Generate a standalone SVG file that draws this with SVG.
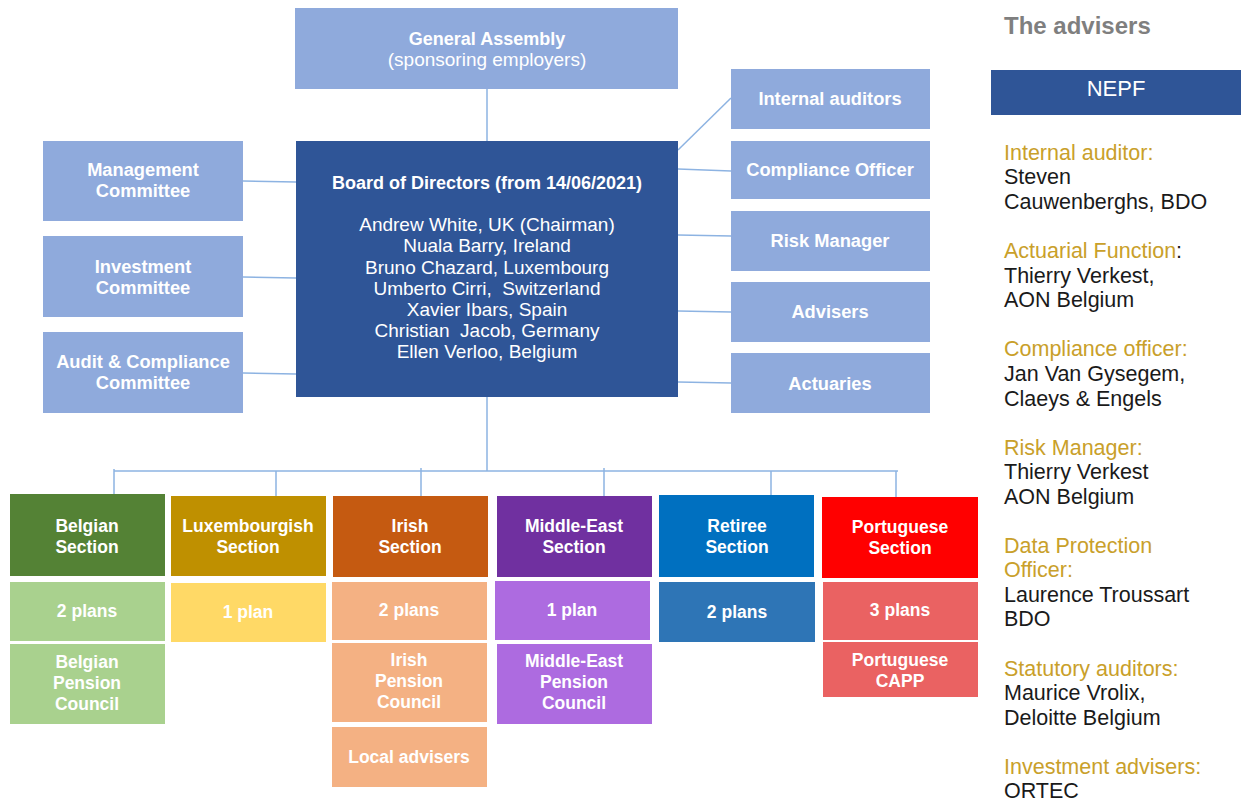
<svg xmlns="http://www.w3.org/2000/svg" width="1241" height="801" viewBox="0 0 1241 801">
<style>
.lb{fill:#8FAADC}
.bd{fill:#2F5597}
.t{font-family:"Liberation Sans",Arial,sans-serif;fill:#fff;text-anchor:middle}
.b{font-weight:bold;font-size:17.5px}
.s{font-size:18.3px}
.r{font-size:19px}
.c{stroke:#8DB3E2;stroke-width:1.5;fill:none}
.adv{font-family:"Liberation Sans",Arial,sans-serif;font-size:21.5px;fill:#1a1a1a}
.g{fill:#C9A02A}
</style>
<rect width="1241" height="801" fill="#fff"/>
<g id="connectors">
<line class="c" x1="487" y1="89" x2="487" y2="141"/>
<line class="c" x1="243" y1="181" x2="296" y2="182"/>
<line class="c" x1="243" y1="277" x2="296" y2="278"/>
<line class="c" x1="243" y1="373" x2="296" y2="374"/>
<line class="c" x1="678" y1="150" x2="731" y2="98"/>
<line class="c" x1="678" y1="169" x2="731" y2="171"/>
<line class="c" x1="678" y1="235" x2="731" y2="236"/>
<line class="c" x1="678" y1="311" x2="731" y2="312"/>
<line class="c" x1="678" y1="382" x2="731" y2="383"/>
<line class="c" x1="487" y1="397" x2="487" y2="471"/>
<line class="c" x1="114" y1="471" x2="898" y2="471"/>
<line class="c" x1="114" y1="469" x2="114" y2="494"/>
<line class="c" x1="276" y1="471" x2="276" y2="496"/>
<line class="c" x1="421" y1="468" x2="421" y2="496"/>
<line class="c" x1="604" y1="468" x2="604" y2="496"/>
<line class="c" x1="771" y1="471" x2="771" y2="495"/>
<line class="c" x1="896" y1="471" x2="896" y2="497"/>
</g>
<g id="general-assembly">
<rect class="lb" x="295" y="8" width="383" height="81"/>
<text class="t b" x="487" y="45" style="font-size:18px">General Assembly</text>
<text class="t r" x="487" y="66">(sponsoring employers)</text>
</g>
<g id="board">
<rect class="bd" x="296" y="141" width="382" height="256"/>
<text class="t b" x="487" y="189" style="font-size:18px">Board of Directors (from 14/06/2021)</text>
<text class="t r" x="487" y="231">Andrew White, UK (Chairman)</text>
<text class="t r" x="487" y="252">Nuala Barry, Ireland</text>
<text class="t r" x="487" y="274">Bruno Chazard, Luxembourg</text>
<text class="t r" x="487" y="295" xml:space="preserve">Umberto Cirri,  Switzerland</text>
<text class="t r" x="487" y="316">Xavier Ibars, Spain</text>
<text class="t r" x="487" y="337" xml:space="preserve">Christian  Jacob, Germany</text>
<text class="t r" x="487" y="358">Ellen Verloo, Belgium</text>
</g>
<g id="management-committee">
<rect class="lb" x="43" y="141" width="200" height="80"/>
<text class="t b s" x="143" y="176">Management</text>
<text class="t b s" x="143" y="197">Committee</text>
</g>
<g id="investment-committee">
<rect class="lb" x="43" y="236" width="200" height="81"/>
<text class="t b s" x="143" y="273">Investment</text>
<text class="t b s" x="143" y="294">Committee</text>
</g>
<g id="audit-committee">
<rect class="lb" x="43" y="332" width="200" height="81"/>
<text class="t b s" x="143" y="368">Audit &amp; Compliance</text>
<text class="t b s" x="143" y="389">Committee</text>
</g>
<g id="internal-auditors">
<rect class="lb" x="731" y="69" width="199" height="60"/>
<text class="t b s" x="830" y="105">Internal auditors</text>
</g>
<g id="compliance-officer">
<rect class="lb" x="731" y="141" width="199" height="58"/>
<text class="t b s" x="830" y="176">Compliance Officer</text>
</g>
<g id="risk-manager">
<rect class="lb" x="731" y="211" width="199" height="60"/>
<text class="t b s" x="830" y="247">Risk Manager</text>
</g>
<g id="advisers">
<rect class="lb" x="731" y="282" width="199" height="60"/>
<text class="t b s" x="830" y="318">Advisers</text>
</g>
<g id="actuaries">
<rect class="lb" x="731" y="353" width="199" height="60"/>
<text class="t b s" x="830" y="390">Actuaries</text>
</g>
<g id="belgian-section">
<rect x="10" y="494" width="155" height="82" fill="#548235"/>
<text class="t b" x="87" y="532">Belgian</text>
<text class="t b" x="87" y="553">Section</text>
<rect x="10" y="582" width="155" height="59" fill="#A9D18E"/>
<text class="t b" x="87" y="617">2 plans</text>
<rect x="10" y="644" width="155" height="80" fill="#A9D18E"/>
<text class="t b" x="87" y="668">Belgian</text>
<text class="t b" x="87" y="689">Pension</text>
<text class="t b" x="87" y="710">Council</text>
</g>
<g id="luxembourgish-section">
<rect x="171" y="496" width="155" height="80" fill="#BF9000"/>
<text class="t b" x="248" y="532">Luxembourgish</text>
<text class="t b" x="248" y="553">Section</text>
<rect x="171" y="583" width="155" height="59" fill="#FFD966"/>
<text class="t b" x="248" y="618">1 plan</text>
</g>
<g id="irish-section">
<rect x="333" y="496" width="155" height="81" fill="#C55A11"/>
<text class="t b" x="410" y="532">Irish</text>
<text class="t b" x="410" y="553">Section</text>
<rect x="332" y="582" width="155" height="58" fill="#F4B183"/>
<text class="t b" x="409" y="616">2 plans</text>
<rect x="332" y="643" width="155" height="79" fill="#F4B183"/>
<text class="t b" x="409" y="666">Irish</text>
<text class="t b" x="409" y="687">Pension</text>
<text class="t b" x="409" y="708">Council</text>
<rect x="332" y="727" width="155" height="60" fill="#F4B183"/>
<text class="t b" x="409" y="763">Local advisers</text>
</g>
<g id="middle-east-section">
<rect x="497" y="496" width="155" height="81" fill="#7030A0"/>
<text class="t b" x="574" y="532">Middle-East</text>
<text class="t b" x="574" y="553">Section</text>
<rect x="495" y="581" width="155" height="59" fill="#AD6BE0"/>
<text class="t b" x="572" y="616">1 plan</text>
<rect x="497" y="644" width="155" height="80" fill="#AD6BE0"/>
<text class="t b" x="574" y="667">Middle-East</text>
<text class="t b" x="574" y="688">Pension</text>
<text class="t b" x="574" y="709">Council</text>
</g>
<g id="retiree-section">
<rect x="659" y="495" width="155" height="82" fill="#0070C0"/>
<text class="t b" x="737" y="532">Retiree</text>
<text class="t b" x="737" y="553">Section</text>
<rect x="659" y="582" width="156" height="60" fill="#2E75B6"/>
<text class="t b" x="737" y="618">2 plans</text>
</g>
<g id="portuguese-section">
<rect x="822" y="497" width="156" height="81" fill="#FF0000"/>
<text class="t b" x="900" y="533">Portuguese</text>
<text class="t b" x="900" y="554">Section</text>
<rect x="823" y="582" width="155" height="58" fill="#EA6262"/>
<text class="t b" x="900" y="616">3 plans</text>
<rect x="823" y="642" width="155" height="55" fill="#EA6262"/>
<text class="t b" x="900" y="666">Portuguese</text>
<text class="t b" x="900" y="687">CAPP</text>
</g>
<g id="advisers-panel">
<text x="1004" y="34" style="font-family:'Liberation Sans',Arial,sans-serif;font-weight:bold;font-size:24px;fill:#7F7F7F">The advisers</text>
<rect x="991" y="70" width="250" height="45" fill="#2F5597"/>
<text class="t" x="1116" y="96" style="font-size:22px">NEPF</text>
<text class="adv g" x="1004" y="160">Internal auditor:</text>
<text class="adv" x="1004" y="184">Steven</text>
<text class="adv" x="1004" y="209">Cauwenberghs, BDO</text>
<text class="adv" x="1004" y="258"><tspan class="g">Actuarial Function</tspan>:</text>
<text class="adv" x="1004" y="283">Thierry Verkest,</text>
<text class="adv" x="1004" y="307">AON Belgium</text>
<text class="adv g" x="1004" y="356">Compliance officer:</text>
<text class="adv" x="1004" y="381">Jan Van Gysegem,</text>
<text class="adv" x="1004" y="406">Claeys &amp; Engels</text>
<text class="adv g" x="1004" y="455">Risk Manager:</text>
<text class="adv" x="1004" y="479">Thierry Verkest</text>
<text class="adv" x="1004" y="504">AON Belgium</text>
<text class="adv g" x="1004" y="553">Data Protection</text>
<text class="adv g" x="1004" y="577">Officer:</text>
<text class="adv" x="1004" y="602">Laurence Troussart</text>
<text class="adv" x="1004" y="626">BDO</text>
<text class="adv g" x="1004" y="676">Statutory auditors:</text>
<text class="adv" x="1004" y="700">Maurice Vrolix,</text>
<text class="adv" x="1004" y="725">Deloitte Belgium</text>
<text class="adv g" x="1004" y="774">Investment advisers:</text>
<text class="adv" x="1004" y="798">ORTEC</text>
</g>
</svg>
